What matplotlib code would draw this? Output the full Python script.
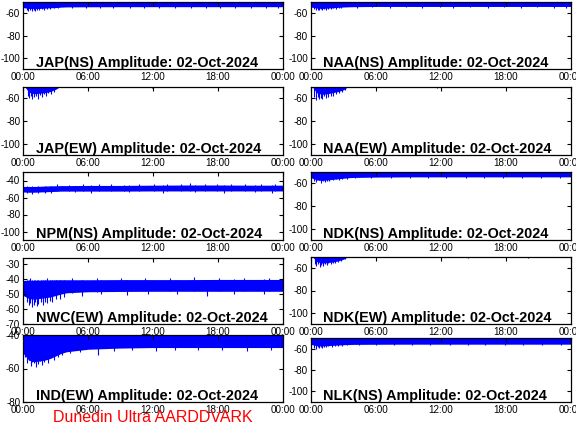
import numpy as np
import matplotlib.pyplot as plt

plt.rcParams['font.family'] = ['Liberation Sans', 'DejaVu Sans']

# x axis: hours of the day
hour_ticks = [0, 6, 12, 18, 24]
hour_labels = ['00:00', '06:00', '12:00', '18:00', '00:00']
date_str = '02-Oct-2024'

# hours at which the band edges were read
knots = [0, 0.5, 1, 1.5, 2, 2.5, 3, 3.5, 4, 6, 9, 12, 15, 18, 21, 24]

# --- JAP(NS)
jap_ns_top = -49
jap_ns_bot = [-55.0, -55.8, -56.0, -55.8, -55.5, -55.2, -55.0, -54.6, -54.4, -54.3, -54.2, -54.2, -54.2, -54.2, -54.2, -54.2]
jap_ns_spk_t = [0.3, 0.45, 0.6, 0.8, 0.95, 1.1, 1.3, 1.45, 1.7, 1.9, 2.2, 2.5, 2.8, 3.2,
                4.5, 5.8, 7.1, 8.3, 9.9, 11.2, 12.6, 14.0, 15.5, 16.9, 18.2, 19.6, 21.1, 22.5, 23.6]
jap_ns_spk_v = [-57.5, -58.5, -57.0, -58.2, -57.2, -57.8, -56.8, -57.5, -56.5, -57.0, -56.3, -56.0, -55.8, -55.6,
                -55.4, -55.1, -55.3, -55.0, -55.2, -55.0, -55.3, -55.1, -55.4, -55.0, -55.2, -55.1, -55.3, -55.0, -55.2]

# --- NAA(NS)
naa_ns_top = -49
naa_ns_bot = [-54.5, -55.5, -55.8, -55.5, -55.2, -54.8, -54.5, -54.3, -54.2, -54.0, -54.0, -54.0, -54.0, -54.0, -54.0, -54.0]
naa_ns_spk_t = [0.3, 0.45, 0.6, 0.75, 0.9, 1.05, 1.2, 1.4, 1.6, 1.8, 2.0, 2.3, 2.6, 2.8,
                4.2, 5.6, 7.3, 8.8, 10.2, 11.9, 13.1, 14.7, 16.3, 17.8, 19.4, 20.9, 22.4, 23.5]
naa_ns_spk_v = [-56.5, -57.6, -56.8, -57.3, -56.2, -57.0, -56.5, -56.9, -56.0, -56.4, -55.8, -56.0, -55.6, -55.4,
                -55.0, -54.8, -55.1, -54.9, -55.0, -54.8, -55.2, -54.9, -55.0, -54.8, -55.1, -54.9, -55.0, -55.1]

# --- JAP(EW)
jap_ew_top = -45
jap_ew_bot = [-48, -54.5, -56.0, -55.5, -55.0, -54.0, -52.0, -49.0, -48, -48, -48, -48, -48, -48, -48, -48]
jap_ew_spk_t = [0.4, 0.55, 0.7, 0.85, 1.0, 1.2, 1.35, 1.5, 1.7, 1.9, 2.1, 2.3, 2.6, 2.8, 11.9]
jap_ew_spk_v = [-58.0, -60.0, -57.5, -61.0, -59.0, -58.0, -60.5, -57.0, -58.5, -56.5, -57.5, -55.5, -56.0, -54.0, -51.0]

# --- NAA(EW)
naa_ew_top = -45
naa_ew_bot = [-48, -55.0, -56.5, -56.0, -55.0, -54.0, -52.5, -49.0, -48, -48, -48, -48, -48, -48, -48, -48]
naa_ew_spk_t = [0.3, 0.45, 0.6, 0.75, 0.9, 1.05, 1.2, 1.4, 1.6, 1.8, 2.0, 2.3, 2.6, 2.9, 3.1, 11.6]
naa_ew_spk_v = [-58.5, -61.5, -59.0, -61.0, -59.5, -60.5, -58.0, -60.0, -58.5, -57.5, -58.0, -56.5, -55.5, -54.5, -52.5, -51.0]

# --- NPM(NS)
npm_ns_top = [-47.0, -47.0, -47.0, -46.8, -46.5, -46.3, -46.2, -46.0, -46.0, -45.8, -45.8, -45.5, -45.3, -45.3, -45.5, -45.5]
npm_ns_bot = [-53.5, -53.8, -53.8, -53.5, -53.3, -53.0, -52.8, -52.5, -52.5, -52.5, -52.5, -52.3, -52.3, -52.3, -52.3, -52.3]
npm_ns_up_t = [3.1, 4.2, 5.5, 7.0, 8.1, 9.3, 10.7, 12.1, 13.3, 14.6, 15.4, 16.8, 17.9, 19.2, 20.5, 22.0, 23.3]
npm_ns_up_v = [-44.5, -44.8, -44.2, -44.6, -44.3, -44.8, -44.5, -44.0, -44.3, -44.0, -43.5, -44.2, -44.0, -44.5, -44.3, -44.6, -44.2]
npm_ns_spk_t = [0.3, 0.8, 1.4, 2.0, 2.6, 4.8, 6.3, 9.8, 12.9, 15.9, 18.6, 21.4, 23.0]
npm_ns_spk_v = [-55.0, -55.3, -54.8, -55.0, -54.6, -54.0, -54.3, -54.0, -54.2, -54.0, -54.3, -54.1, -54.2]

# --- NDK(NS)
ndk_ns_top = -49
ndk_ns_bot = [-55.0, -57.0, -57.5, -57.0, -56.5, -56.0, -55.5, -55.0, -54.8, -54.5, -54.3, -54.3, -54.3, -54.3, -54.3, -54.3]
ndk_ns_spk_t = [0.3, 0.5, 0.7, 0.9, 1.1, 1.3, 1.5, 1.7, 2.0, 2.3, 2.6, 2.9, 3.3,
                4.1, 5.5, 7.4, 9.1, 10.8, 12.5, 14.3, 16.0, 17.7, 19.5, 21.2, 23.0]
ndk_ns_spk_v = [-57.5, -58.5, -57.0, -59.5, -58.0, -58.8, -57.5, -58.0, -57.0, -56.5, -56.8, -56.0, -55.8,
                -55.5, -55.2, -55.3, -55.0, -55.4, -55.1, -55.3, -55.0, -55.2, -55.4, -55.0, -55.2]

# --- NWC(EW)
nwc_ew_top = [-41.0, -40.8, -40.8, -40.7, -40.6, -40.6, -40.5, -40.5, -40.5, -40.5, -40.4, -40.4, -40.4, -40.3, -40.3, -40.3]
nwc_ew_bot = [-51.0, -53.0, -53.5, -53.0, -52.5, -52.0, -51.0, -50.0, -49.2, -48.5, -48.3, -48.2, -48.2, -48.2, -48.2, -48.2]
nwc_ew_up_t = [0.6, 2.2, 4.5, 6.8, 9.0, 11.3, 13.6, 15.8, 18.1, 20.4, 22.7]
nwc_ew_up_v = [-39.5, -39.3, -39.2, -39.0, -39.3, -39.1, -39.2, -38.9, -39.1, -39.0, -39.2]
nwc_ew_spk_t = [0.35, 0.5, 0.65, 0.8, 0.95, 1.1, 1.25, 1.4, 1.6, 1.8, 2.0, 2.2, 2.45, 2.7, 3.0, 3.4, 3.8,
                5.4, 7.2, 9.6, 11.5, 14.2, 17.0, 19.5, 22.3]
nwc_ew_spk_v = [-55.0, -57.5, -56.0, -58.5, -57.0, -55.5, -57.8, -56.5, -55.5, -57.0, -55.0, -56.0, -54.5, -55.5, -53.5, -53.0, -52.0,
                -51.0, -50.3, -50.8, -50.0, -50.2, -51.0, -50.0, -50.3]

# --- NDK(EW)
ndk_ew_top = -45
ndk_ew_bot = [-48, -54.0, -55.5, -55.0, -54.5, -53.5, -52.0, -49.0, -48, -48, -48, -48, -48, -48, -48, -48]
ndk_ew_spk_t = [0.35, 0.5, 0.65, 0.8, 0.95, 1.1, 1.3, 1.45, 1.6, 1.8, 2.0, 2.2, 2.5, 2.8, 3.1, 14.5, 20.0]
ndk_ew_spk_v = [-56.0, -58.0, -56.5, -58.6, -57.0, -58.0, -56.0, -57.5, -55.5, -56.5, -55.0, -55.8, -54.5, -53.5, -52.0, -51.0, -51.0]

# --- IND(EW)
ind_ew_top = -39
ind_ew_bot = [-51.0, -55.0, -56.0, -55.5, -55.0, -54.0, -52.5, -51.0, -50.0, -48.5, -47.8, -47.5, -47.5, -47.5, -47.5, -47.5]
ind_ew_spk_t = [0.15, 0.35, 0.5, 0.7, 0.85, 1.0, 1.2, 1.35, 1.5, 1.7, 1.9, 2.1, 2.3, 2.5, 2.8, 3.2, 3.6,
                4.3, 5.2, 6.9, 8.4, 10.1, 12.3, 14.0, 16.2, 18.4, 20.7, 22.9]
ind_ew_spk_v = [-53.0, -56.5, -55.0, -58.5, -56.0, -57.0, -59.2, -57.5, -55.5, -58.0, -56.0, -54.5, -56.5, -54.0, -55.0, -53.0, -52.0,
                -51.0, -50.0, -52.0, -49.5, -49.0, -49.3, -49.0, -49.2, -49.0, -49.3, -49.0]

# --- NLK(NS)
nlk_ns_top = -49
nlk_ns_bot = [-56.0, -57.2, -57.5, -57.2, -56.9, -56.6, -56.3, -56.1, -56.0, -55.9, -55.8, -55.8, -55.8, -55.8, -55.8, -55.8]
nlk_ns_spk_t = [0.3, 0.45, 0.6, 0.75, 0.9, 1.05, 1.2, 1.4, 1.6, 1.9, 2.2, 2.5, 2.9, 3.3,
                4.4, 6.0, 7.7, 9.3, 11.0, 12.8, 14.5, 16.1, 17.9, 19.6, 21.3, 23.1]
nlk_ns_spk_v = [-59.0, -60.0, -58.5, -59.6, -58.2, -59.0, -58.0, -58.6, -57.8, -58.2, -57.6, -57.4, -57.2, -57.0,
                -56.8, -56.6, -56.9, -56.6, -56.8, -56.5, -56.9, -56.6, -56.8, -56.5, -56.7, -56.6]

W, H = 576, 432
fig = plt.figure(figsize=(W / 100, H / 100), dpi=100)
fig.patch.set_facecolor('white')


def add_panel(x0, x1, y0, y1, name, top, bot, spk_t, spk_v, ylim, yticks, up_t=None, up_v=None):
    ax = fig.add_axes([x0 / W, 1 - y1 / H, (x1 - x0) / W, (y1 - y0) / H])
    ax.fill_between(knots, bot, top, color='#0000ff', lw=0)
    ax.vlines(spk_t, spk_v, top if np.isscalar(top) else np.interp(spk_t, knots, top),
              color='#0000ff', lw=0.8)
    if up_t is not None:
        ax.vlines(up_t, np.interp(up_t, knots, bot), up_v, color='#0000ff', lw=0.8)
    ax.set_xlim(0, 24)
    ax.set_ylim(*ylim)
    ax.set_xticks(hour_ticks)
    ax.set_xticklabels(hour_labels)
    ax.set_yticks(yticks)
    ax.set_yticklabels(['-%d' % abs(v) for v in yticks])
    ax.tick_params(direction='in', length=3, width=0.8, top=True, right=True,
                   labelsize=7.1, pad=2.2, colors='black')
    ax.tick_params(axis='x', bottom=False, pad=2.5)
    for s in ax.spines.values():
        s.set_linewidth(0.9)
        s.set_color('black')
    ax.text(0.048, 0.035, '%s Amplitude: %s' % (name, date_str), transform=ax.transAxes,
            ha='left', va='baseline', fontsize=10.4, fontweight='bold', zorder=5)
    return ax


L0, L1 = 23.3, 282.7
R0, R1 = 311, 571
ylim6 = (-110, -50)
yt6 = [-100, -80, -60]

add_panel(L0, L1, 2, 69, 'JAP(NS)', jap_ns_top, jap_ns_bot, jap_ns_spk_t, jap_ns_spk_v, ylim6, yt6)
add_panel(R0, R1, 2, 69, 'NAA(NS)', naa_ns_top, naa_ns_bot, naa_ns_spk_t, naa_ns_spk_v, ylim6, yt6)
add_panel(L0, L1, 87, 155, 'JAP(EW)', jap_ew_top, jap_ew_bot, jap_ew_spk_t, jap_ew_spk_v, ylim6, yt6)
add_panel(R0, R1, 87, 155, 'NAA(EW)', naa_ew_top, naa_ew_bot, naa_ew_spk_t, naa_ew_spk_v, ylim6, yt6)
add_panel(L0, L1, 172, 240, 'NPM(NS)', npm_ns_top, npm_ns_bot, npm_ns_spk_t, npm_ns_spk_v,
          (-110, -30), [-100, -80, -60, -40], npm_ns_up_t, npm_ns_up_v)
add_panel(R0, R1, 172, 240, 'NDK(NS)', ndk_ns_top, ndk_ns_bot, ndk_ns_spk_t, ndk_ns_spk_v, ylim6, yt6)
add_panel(L0, L1, 258, 324, 'NWC(EW)', nwc_ew_top, nwc_ew_bot, nwc_ew_spk_t, nwc_ew_spk_v,
          (-70, -26), [-70, -60, -50, -40, -30], nwc_ew_up_t, nwc_ew_up_v)
add_panel(R0, R1, 257, 324, 'NDK(EW)', ndk_ew_top, ndk_ew_bot, ndk_ew_spk_t, ndk_ew_spk_v, ylim6, yt6)
add_panel(L0, L1, 335, 402, 'IND(EW)', ind_ew_top, ind_ew_bot, ind_ew_spk_t, ind_ew_spk_v,
          (-80, -40), [-80, -60, -40])
add_panel(R0, R1, 338, 402, 'NLK(NS)', nlk_ns_top, nlk_ns_bot, nlk_ns_spk_t, nlk_ns_spk_v, ylim6, yt6)

fig.text(53 / W, 1 - 422 / H, 'Dunedin Ultra AARDDVARK', color='#ff0000', fontsize=11.5,
         ha='left', va='baseline')

fig.savefig('out.png', dpi=100)
